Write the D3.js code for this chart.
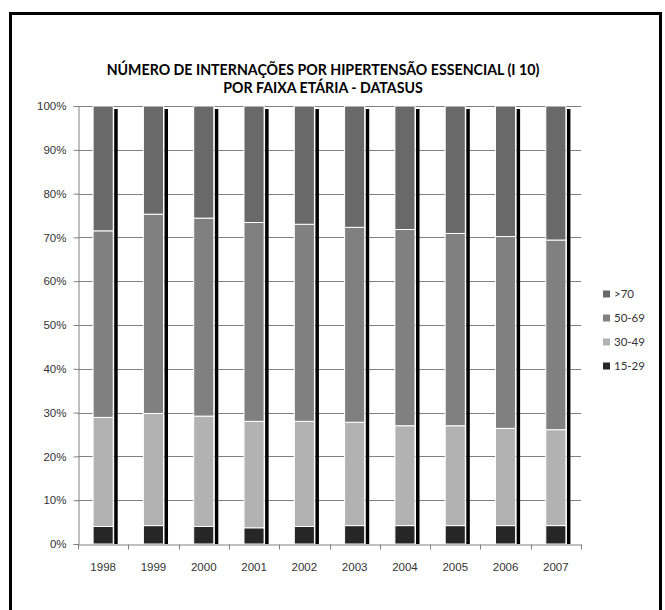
<!DOCTYPE html>
<html>
<head>
<meta charset="utf-8">
<script src="https://cdn.jsdelivr.net/npm/d3@7"></script>
<style>
  body { margin: 0; background: #fff; }
  svg { display: block; font-family: Lato, 'Open Sans', sans-serif; }
  .tick-label { font-size: 11.5px; fill: #333; }
  .title { font-size: 13px; font-weight: bold; fill: #000; }
</style>
</head>
<body>
<div id="chart"></div>
<script>
const years = ['1998', '1999', '2000', '2001', '2002', '2003', '2004', '2005', '2006', '2007'];
const groups = ['15-29', '30-49', '50-69', '>70'];

// percentages per age group
const age15to29 = [4.0, 4.2, 4.0, 3.7, 4.0, 4.2, 4.2, 4.2, 4.2, 4.2];
const age30to49 = [24.9, 25.6, 25.2, 24.3, 24.0, 23.6, 22.8, 22.8, 22.2, 21.9];
const age50to69 = [42.6, 45.5, 45.2, 45.4, 45.0, 44.5, 44.8, 43.9, 43.8, 43.3];
const age70plus = [28.5, 24.7, 25.6, 26.6, 27.0, 27.7, 28.2, 29.1, 29.8, 30.6];

const yTicks = [0, 10, 20, 30, 40, 50, 60, 70, 80, 90, 100];
const titleLines = ['NÚMERO DE INTERNAÇÕES POR HIPERTENSÃO ESSENCIAL (I 10)', 'POR FAIXA ETÁRIA - DATASUS'];

const colors = { '15-29': '#262626', '30-49': '#b2b2b2', '50-69': '#808080', '>70': '#696969' };

const width = 665;
const height = 610;

const rows = years.map((year, i) => ({
  year,
  '15-29': age15to29[i],
  '30-49': age30to49[i],
  '50-69': age50to69[i],
  '>70': age70plus[i],
}));

// normalise each year to 100%
const stack = d3.stack().keys(groups).offset(d3.stackOffsetExpand);
const series = stack(rows);

const x = d3.scaleBand()
  .domain(years)
  .range([78, 581])
  .paddingInner(0.6)
  .paddingOuter(0.3);

const y = d3.scaleLinear()
  .domain([0, 1])
  .range([544, 106]);

const svg = d3.select('#chart')
  .append('svg')
  .attr('width', width)
  .attr('height', height);

// frame
svg.append('path')
  .attr('d', 'M10.5,610 V13.5 H660.5 V610')
  .attr('fill', 'none')
  .attr('stroke', '#000')
  .attr('stroke-width', 3);

// title
const title = svg.append('text')
  .attr('class', 'title')
  .attr('text-anchor', 'middle');

title.selectAll('tspan')
  .data(titleLines)
  .enter()
  .append('tspan')
  .attr('x', 323)
  .attr('y', (d, i) => 75 + i * 18)
  .text(d => d);

// fit the first line to the width it has in the picture
const firstLen = title.select('tspan').node().getComputedTextLength();
title.style('font-size', `${13 * 433 / firstLen}px`);

// gridlines
svg.append('g')
  .selectAll('line')
  .data(yTicks.slice(1))
  .enter()
  .append('line')
  .attr('x1', 78)
  .attr('x2', 581)
  .attr('y1', d => Math.round(y(d / 100)) + 0.5)
  .attr('y2', d => Math.round(y(d / 100)) + 0.5)
  .attr('stroke', '#808080')
  .attr('stroke-width', 1);

// shadows to the right of each bar
svg.append('g')
  .selectAll('rect')
  .data(years)
  .enter()
  .append('rect')
  .attr('x', d => x(d) + x.bandwidth() + 1)
  .attr('y', y(1) + 3)
  .attr('width', 3.5)
  .attr('height', y(0) - y(1) - 3)
  .attr('fill', '#000');

// stacked bars
svg.append('g')
  .selectAll('g')
  .data(series)
  .enter()
  .append('g')
  .attr('fill', d => colors[d.key])
  .selectAll('rect')
  .data(d => d)
  .enter()
  .append('rect')
  .attr('x', d => x(d.data.year))
  .attr('y', d => y(d[1]))
  .attr('width', x.bandwidth())
  .attr('height', d => y(d[0]) - y(d[1]))
  .attr('stroke', '#fff')
  .attr('stroke-width', 1);

// y axis
const yAxis = svg.append('g')
  .attr('transform', 'translate(78.5,0)')
  .call(d3.axisLeft(y)
    .tickValues(yTicks.map(v => v / 100))
    .tickSize(5)
    .tickPadding(7)
    .tickFormat(d => `${Math.round(d * 100)}%`));

yAxis.select('.domain').attr('stroke', '#808080');
yAxis.selectAll('.tick line').attr('stroke', '#808080');
yAxis.selectAll('.tick text')
  .attr('class', 'tick-label')
  .attr('font-family', null)
  .attr('font-size', null);

// x axis
const xAxis = svg.append('g')
  .attr('transform', `translate(0,${y(0) + 0.5})`)
  .call(d3.axisBottom(x).tickSize(0).tickPadding(18));

xAxis.select('.domain').attr('stroke', '#808080');
xAxis.selectAll('.tick text')
  .attr('class', 'tick-label')
  .attr('font-family', null)
  .attr('font-size', null);

// tick marks between categories
xAxis.append('g')
  .selectAll('line')
  .data(d3.range(years.length + 1))
  .enter()
  .append('line')
  .attr('x1', i => Math.round(78 + i * (503 / years.length)) + 0.5)
  .attr('x2', i => Math.round(78 + i * (503 / years.length)) + 0.5)
  .attr('y1', 0)
  .attr('y2', 5)
  .attr('stroke', '#808080');

// legend
const legend = svg.append('g')
  .selectAll('g')
  .data(groups.slice().reverse())
  .enter()
  .append('g')
  .attr('transform', (d, i) => `translate(603,${294 + i * 24})`);

legend.append('rect')
  .attr('x', 0)
  .attr('y', -3.5)
  .attr('width', 7)
  .attr('height', 7)
  .attr('fill', d => colors[d]);

legend.append('text')
  .attr('class', 'tick-label')
  .attr('x', 11)
  .attr('dy', '0.35em')
  .text(d => d);
</script>
</body>
</html>
